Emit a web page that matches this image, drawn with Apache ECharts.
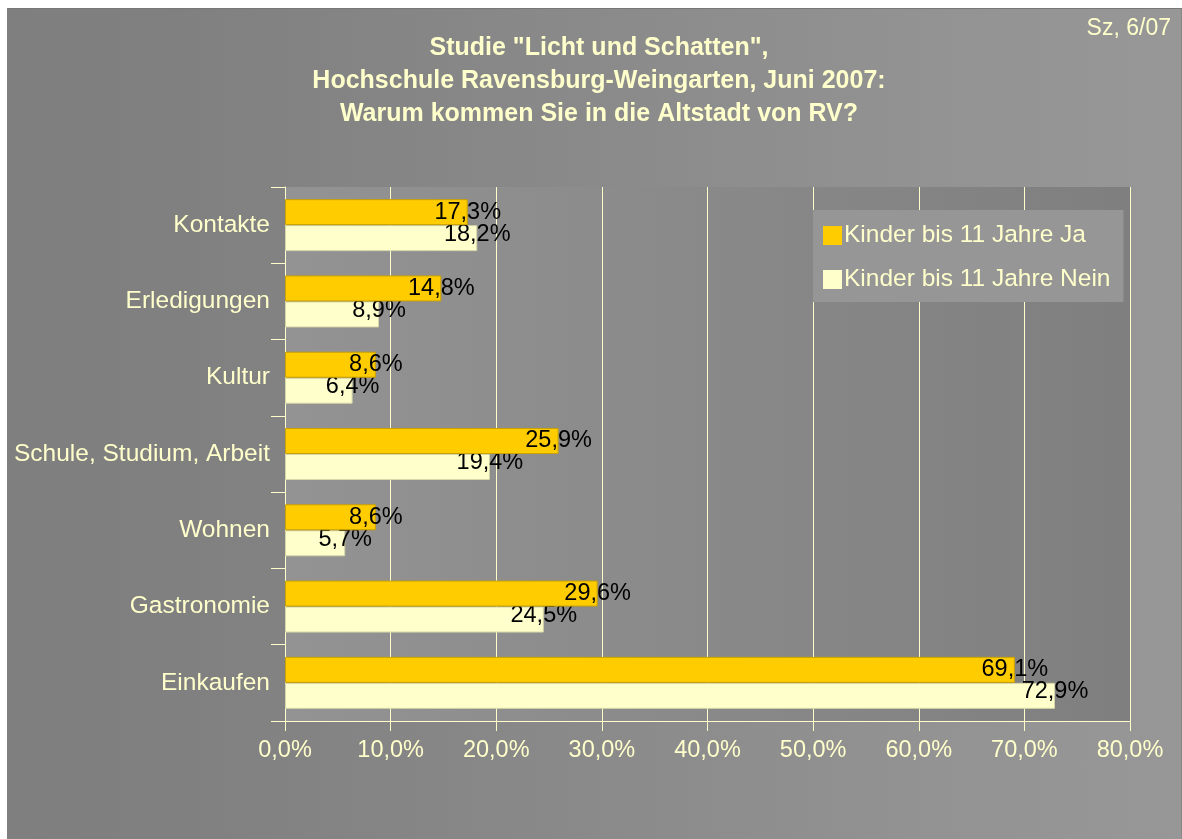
<!DOCTYPE html>
<html>
<head>
<meta charset="utf-8">
<script src="https://cdn.jsdelivr.net/npm/echarts@6/dist/echarts.min.js"></script>
<style>
  body { margin: 0; background: #ffffff; }
  #frame {
    position: absolute; left: 7px; top: 8px; width: 1174px; height: 830px;
    border-top: 1px solid #777; border-right: 1px solid #888;
    background: linear-gradient(to right, #7f7f7f 0%, #808080 15%, #8a8a8a 50%, #939393 80%, #979797 100%);
  }
  #chart { position: absolute; left: 0; top: 0; width: 1182px; height: 839px; }
</style>
</head>
<body>
<div id="frame"></div>
<div id="chart"></div>
<script>
const categories = ['Kontakte', 'Erledigungen', 'Kultur', 'Schule, Studium, Arbeit', 'Wohnen', 'Gastronomie', 'Einkaufen']
const jaValues = [17.3, 14.8, 8.6, 25.9, 8.6, 29.6, 69.1]
const neinValues = [18.2, 8.9, 6.4, 19.4, 5.7, 24.5, 72.9]
const seriesNames = ['Kinder bis 11 Jahre Ja', 'Kinder bis 11 Jahre Nein']
const xTicks = [0, 10, 20, 30, 40, 50, 60, 70, 80]

const font = "'Liberation Sans', Arial, sans-serif"
const pale = '#FFFFCC'
const pct = (v) => v.toFixed(1).replace('.', ',') + '%'

const myChart = echarts.init(document.getElementById('chart'))

const valueLabel = (dy) => ({
  show: true,
  position: ['100%', '50%'],
  align: 'center',
  verticalAlign: 'middle',
  offset: [0, dy],
  color: '#000',
  fontFamily: font,
  fontSize: 23.5,
  formatter: (p) => pct(p.value)
})

myChart.setOption({
  backgroundColor: 'transparent',
  title: [
    {
      text: 'Studie "Licht und Schatten",\nHochschule Ravensburg-Weingarten, Juni 2007:\nWarum kommen Sie in die Altstadt von RV?',
      left: 594,
      top: 27,
      textAlign: 'center',
      textStyle: { color: pale, fontFamily: font, fontSize: 25, fontWeight: 'bold', lineHeight: 33 }
    },
    {
      text: 'Sz, 6/07',
      right: 6,
      top: 12,
      textStyle: { color: pale, fontFamily: font, fontSize: 23, fontWeight: 'normal' }
    }
  ],
  legend: {
    data: seriesNames,
    orient: 'vertical',
    left: 813,
    top: 210,
    padding: [13, 13, 10, 10],
    itemGap: 19,
    itemWidth: 19,
    itemHeight: 19,
    icon: 'rect',
    itemStyle: { borderWidth: 0 },
    backgroundColor: '#969696',
    textStyle: { color: pale, fontFamily: font, fontSize: 24.5, lineHeight: 24, padding: [0, 0, 0, -3] }
  },
  grid: {
    left: 285,
    right: 52,
    top: 187,
    bottom: 118,
    show: true,
    borderWidth: 0,
    backgroundColor: new echarts.graphic.LinearGradient(0, 0, 1, 0, [
      { offset: 0, color: '#939393' },
      { offset: 1, color: '#7f7f7f' }
    ])
  },
  xAxis: {
    type: 'value',
    min: xTicks[0],
    max: xTicks[xTicks.length - 1],
    interval: 10,
    axisLine: { show: true, lineStyle: { color: pale, width: 1 } },
    axisTick: { show: true, length: 10, lineStyle: { color: pale } },
    axisLabel: { color: pale, fontFamily: font, fontSize: 23.5, margin: 18, formatter: pct },
    splitLine: { show: true, lineStyle: { color: pale, width: 1 } }
  },
  yAxis: {
    type: 'category',
    data: categories,
    inverse: true,
    axisLine: { show: true, lineStyle: { color: pale, width: 1 } },
    axisTick: { show: true, length: 14, lineStyle: { color: pale } },
    axisLabel: { color: pale, fontFamily: font, fontSize: 24.5, margin: 15 }
  },
  series: [
    {
      name: seriesNames[0],
      type: 'bar',
      data: jaValues,
      barWidth: 26,
      barGap: '0%',
      itemStyle: { color: '#FFCC00', borderColor: '#C9A100', borderWidth: 1 },
      label: valueLabel(0),
      z: 3
    },
    {
      name: seriesNames[1],
      type: 'bar',
      data: neinValues,
      barWidth: 26,
      barGap: '0%',
      itemStyle: { color: '#FFFFCC', borderColor: '#d6d6a8', borderWidth: 1 },
      label: valueLabel(-4),
      z: 2
    }
  ]
})

window.addEventListener('resize', myChart.resize)
</script>
</body>
</html>
